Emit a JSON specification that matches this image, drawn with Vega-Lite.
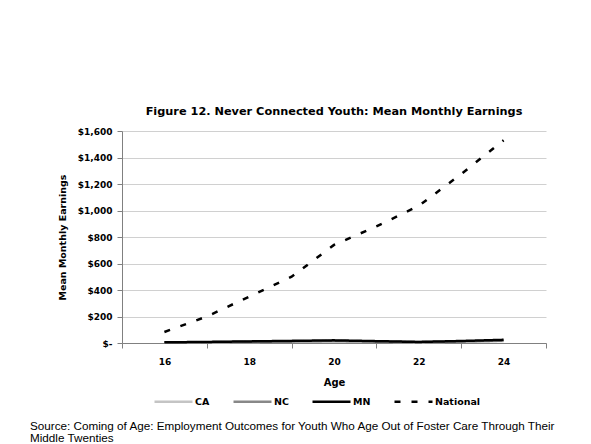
{
  "$schema": "https://vega.github.io/schema/vega-lite/v6.json",
  "autosize": "none",
  "padding": {"left": 122, "top": 131, "right": 469, "bottom": 313},
  "background": "white",
  "config": {
    "font": "DejaVu Sans",
    "view": {"stroke": null},
    "concat": {"spacing": 0}
  },
  "title": {
    "text": ["Source: Coming of Age: Employment Outcomes for Youth Who Age Out of Foster Care Through Their", "Middle Twenties"],
    "orient": "bottom",
    "anchor": "start",
    "frame": "group",
    "font": "Liberation Sans",
    "fontSize": 11.7,
    "fontWeight": "normal",
    "color": "#000000",
    "lineHeight": 11.5,
    "offset": 14,
    "dx": -92
  },
  "vconcat": [
    {
      "width": 424,
      "height": 212,
      "title": {
        "text": "Figure 12. Never Connected Youth: Mean Monthly Earnings",
        "font": "DejaVu Sans",
        "fontSize": 11.3,
        "fontWeight": "bold",
        "color": "#000000",
        "offset": 10,
        "anchor": "middle"
      },
      "data": {
        "values": [
          {"age": 16, "series": "CA", "earnings": 3},
          {"age": 17, "series": "CA", "earnings": 5},
          {"age": 18, "series": "CA", "earnings": 8},
          {"age": 19, "series": "CA", "earnings": 10},
          {"age": 20, "series": "CA", "earnings": 12},
          {"age": 21, "series": "CA", "earnings": 10},
          {"age": 22, "series": "CA", "earnings": 6},
          {"age": 23, "series": "CA", "earnings": 10},
          {"age": 24, "series": "CA", "earnings": 15},
          {"age": 16, "series": "NC", "earnings": 4},
          {"age": 17, "series": "NC", "earnings": 6},
          {"age": 18, "series": "NC", "earnings": 10},
          {"age": 19, "series": "NC", "earnings": 12},
          {"age": 20, "series": "NC", "earnings": 15},
          {"age": 21, "series": "NC", "earnings": 12},
          {"age": 22, "series": "NC", "earnings": 7},
          {"age": 23, "series": "NC", "earnings": 12},
          {"age": 24, "series": "NC", "earnings": 18},
          {"age": 16, "series": "MN", "earnings": 5},
          {"age": 17, "series": "MN", "earnings": 8},
          {"age": 18, "series": "MN", "earnings": 12},
          {"age": 19, "series": "MN", "earnings": 16},
          {"age": 20, "series": "MN", "earnings": 20},
          {"age": 21, "series": "MN", "earnings": 14},
          {"age": 22, "series": "MN", "earnings": 8},
          {"age": 23, "series": "MN", "earnings": 15},
          {"age": 24, "series": "MN", "earnings": 24},
          {"age": 16, "series": "National", "earnings": 83},
          {"age": 17, "series": "National", "earnings": 200},
          {"age": 18, "series": "National", "earnings": 350},
          {"age": 19, "series": "National", "earnings": 500},
          {"age": 20, "series": "National", "earnings": 740},
          {"age": 21, "series": "National", "earnings": 880},
          {"age": 22, "series": "National", "earnings": 1035},
          {"age": 23, "series": "National", "earnings": 1275},
          {"age": 24, "series": "National", "earnings": 1530}
        ]
      },
      "mark": {"type": "line", "strokeCap": "butt"},
      "encoding": {
        "x": {
          "field": "age",
          "type": "quantitative",
          "scale": {"domain": [15, 25], "nice": false, "zero": false},
          "axis": {
            "values": [15, 16, 17, 18, 19, 20, 21, 22, 23, 24, 25],
            "labelExpr": "datum.value % 2 == 0 ? datum.value : ''",
            "tickOpacity": {"condition": {"test": "datum.value % 2 == 0", "value": 0}, "value": 1},
            "grid": false,
            "title": "Age",
            "titleFont": "DejaVu Sans",
            "titleFontSize": 10,
            "titleFontWeight": "bold",
            "titleColor": "#000000",
            "titlePadding": 11,
            "labelFont": "DejaVu Sans",
            "labelFontSize": 9,
            "labelFontWeight": "bold",
            "labelColor": "#000000",
            "labelPadding": 9,
            "tickSize": 5,
            "tickColor": "#808080",
            "domainColor": "#808080",
            "labelFlush": false
          }
        },
        "y": {
          "field": "earnings",
          "type": "quantitative",
          "scale": {"domain": [0, 1600], "nice": false},
          "axis": {
            "values": [0, 200, 400, 600, 800, 1000, 1200, 1400, 1600],
            "labelExpr": "datum.value == 0 ? '$-' : '$' + format(datum.value, ',')",
            "title": "Mean Monthly Earnings",
            "titleFont": "DejaVu Sans",
            "titleFontSize": 9.5,
            "titleFontWeight": "bold",
            "titleColor": "#000000",
            "titlePadding": 10,
            "labelFont": "DejaVu Sans",
            "labelFontSize": 9,
            "labelFontWeight": "bold",
            "labelColor": "#000000",
            "labelPadding": 5,
            "tickSize": 5,
            "tickColor": "#808080",
            "domainColor": "#808080",
            "gridColor": "#d0d0d0",
            "gridWidth": 1
          }
        },
        "color": {
          "field": "series",
          "type": "nominal",
          "scale": {"domain": ["CA", "NC", "MN", "National"], "range": ["#c4c4c4", "#888888", "#000000", "#000000"]},
          "legend": {
            "title": null,
            "orient": "none",
            "direction": "horizontal",
            "legendX": 31,
            "legendY": 250,
            "symbolType": "stroke",
            "symbolSize": 1444,
            "symbolStrokeWidth": 3,
            "labelFont": "DejaVu Sans",
            "labelFontSize": 9.5,
            "labelFontWeight": "bold",
            "labelColor": "#000000",
            "labelOffset": 1,
            "columnPadding": 18
          }
        },
        "strokeDash": {
          "field": "series",
          "type": "nominal",
          "scale": {"domain": ["CA", "NC", "MN", "National"], "range": [[1, 0], [1, 0], [1, 0], [6, 11]]},
          "legend": null
        },
        "strokeWidth": {
          "field": "series",
          "type": "nominal",
          "scale": {"domain": ["CA", "NC", "MN", "National"], "range": [2.5, 2.5, 3, 3]},
          "legend": null
        }
      }
    }
  ]
}
